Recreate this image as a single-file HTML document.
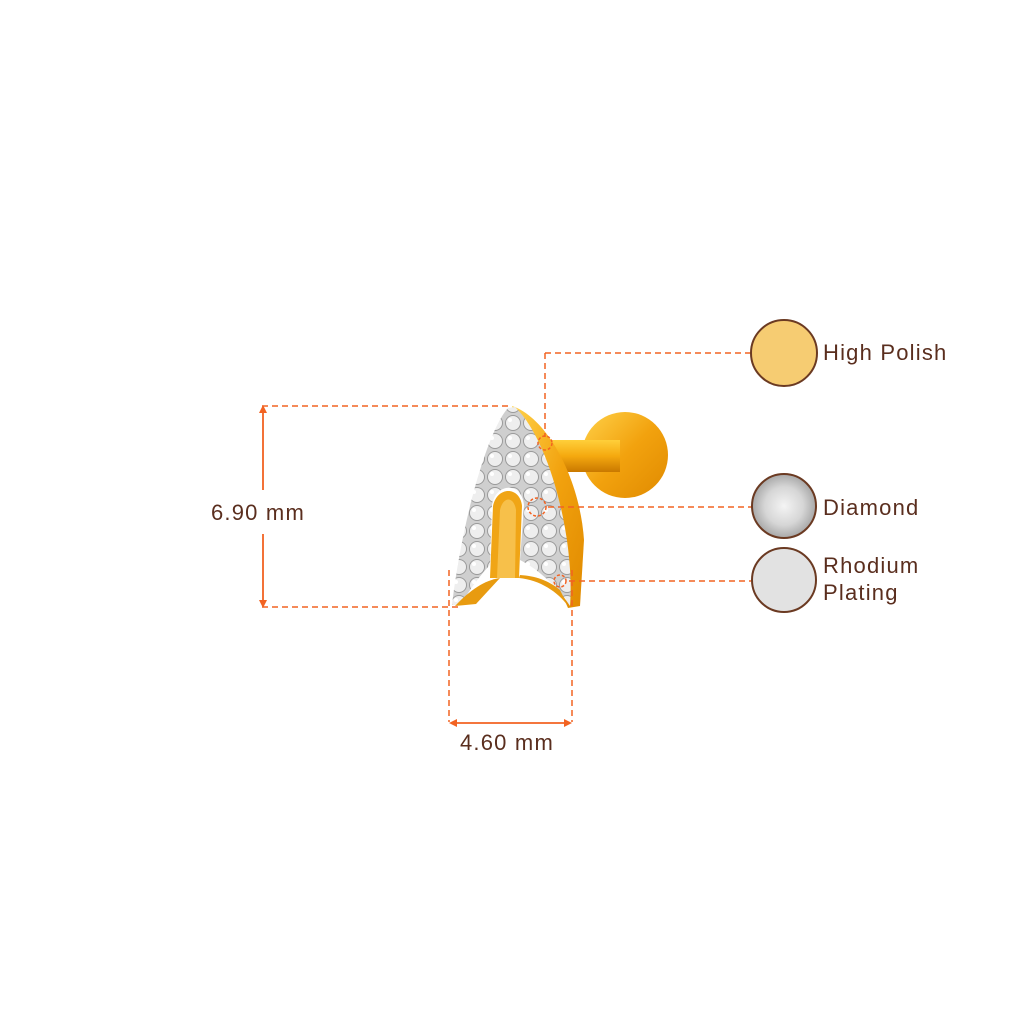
<!DOCTYPE html>
<html><head><style>
html,body{margin:0;padding:0;background:#fff;width:1024px;height:1024px;overflow:hidden}
svg{display:block}
text{font-family:"Liberation Sans",sans-serif;fill:#5a2e1e;font-size:22px;letter-spacing:1.2px}
</style></head><body>
<svg width="1024" height="1024" viewBox="0 0 1024 1024">
<defs>
<linearGradient id="gold" x1="0" y1="0" x2="1" y2="1">
<stop offset="0" stop-color="#ffd24a"/><stop offset="0.5" stop-color="#f2a20e"/><stop offset="1" stop-color="#e08a00"/>
</linearGradient>
<linearGradient id="post" x1="0" y1="0" x2="0" y2="1">
<stop offset="0" stop-color="#ffcf3a"/><stop offset="0.5" stop-color="#f5a90f"/><stop offset="1" stop-color="#c97800"/>
</linearGradient>
<radialGradient id="dia" cx="0.5" cy="0.5" r="0.5">
<stop offset="0" stop-color="#f4f4f4"/><stop offset="0.6" stop-color="#d6d6d6"/><stop offset="1" stop-color="#a8a8a8"/>
</radialGradient>
<pattern id="pave" width="18" height="18" patternUnits="userSpaceOnUse">
<rect width="18" height="18" fill="#cfcfcf"/>
<circle cx="9" cy="9" r="7.5" fill="#eeeeee" stroke="#9a9a9a" stroke-width="1"/>
<circle cx="6" cy="6" r="2" fill="#fff"/>
</pattern>
</defs>
<circle cx="625" cy="455" r="43" fill="url(#gold)"/>
<rect x="548" y="440" width="72" height="32" fill="url(#post)"/>
<path d="M512 406 C548 418 580 480 584 540 L580 606 L568 608 L560 590 Z" fill="url(#gold)"/>
<path d="M508 408 C488 430 462 520 452 605 L460 605 C470 590 480 575 490 565 L492 505 C496 482 522 482 524 505 L520 560 C540 570 560 590 570 606 C575 540 550 440 515 407 Z" fill="url(#pave)"/>
<path d="M490 578 L493 506 C497 486 520 486 522 506 L519 578 Z" fill="#f0a516"/>
<path d="M497 578 L500 510 C503 496 514 496 516 510 L515 578 Z" fill="#f7c04a"/>
<path d="M455 606 C470 590 485 580 500 578 L476 604 Z" fill="#e89b10"/>
<path d="M519 578 C540 580 558 592 568 606 L560 590 C548 580 535 576 520 575 Z" fill="#e89b10"/>
<g stroke="#f26322" stroke-width="1.5" stroke-dasharray="6,4" fill="none">
<line x1="262" y1="406" x2="512" y2="406"/>
<line x1="262" y1="607" x2="462" y2="607"/>
<line x1="449" y1="570" x2="449" y2="722"/>
<line x1="572" y1="570" x2="572" y2="722"/>
<line x1="545" y1="353" x2="751" y2="353"/>
<line x1="545" y1="353" x2="545" y2="437"/>
<line x1="548" y1="507" x2="751" y2="507"/>
<line x1="569" y1="581" x2="751" y2="581"/>
<circle cx="545" cy="443" r="7" stroke-dasharray="3,2"/>
<circle cx="537" cy="507" r="9" stroke-dasharray="3,2"/>
<circle cx="560" cy="581" r="6" stroke-dasharray="3,2"/>
</g>
<g stroke="#f26322" stroke-width="1.8" fill="#f26322">
<line x1="263" y1="410" x2="263" y2="490"/>
<line x1="263" y1="534" x2="263" y2="603"/>
<line x1="453" y1="723" x2="568" y2="723"/>
<path d="M263 405 L259 413 L267 413 Z" stroke="none"/>
<path d="M263 608 L259 600 L267 600 Z" stroke="none"/>
<path d="M449 723 L457 719 L457 727 Z" stroke="none"/>
<path d="M572 723 L564 719 L564 727 Z" stroke="none"/>
</g>
<text x="211" y="520">6.90 mm</text>
<text x="460" y="750">4.60 mm</text>
<circle cx="784" cy="353" r="33" fill="#f6cc72" stroke="#6b3a22" stroke-width="2"/>
<circle cx="784" cy="506" r="32" fill="url(#dia)" stroke="#6b3a22" stroke-width="2"/>
<circle cx="784" cy="580" r="32" fill="#e2e2e2" stroke="#6b3a22" stroke-width="2"/>
<text x="823" y="360">High Polish</text>
<text x="823" y="515">Diamond</text>
<text x="823" y="573">Rhodium</text>
<text x="823" y="600">Plating</text>
</svg>
</body></html>
